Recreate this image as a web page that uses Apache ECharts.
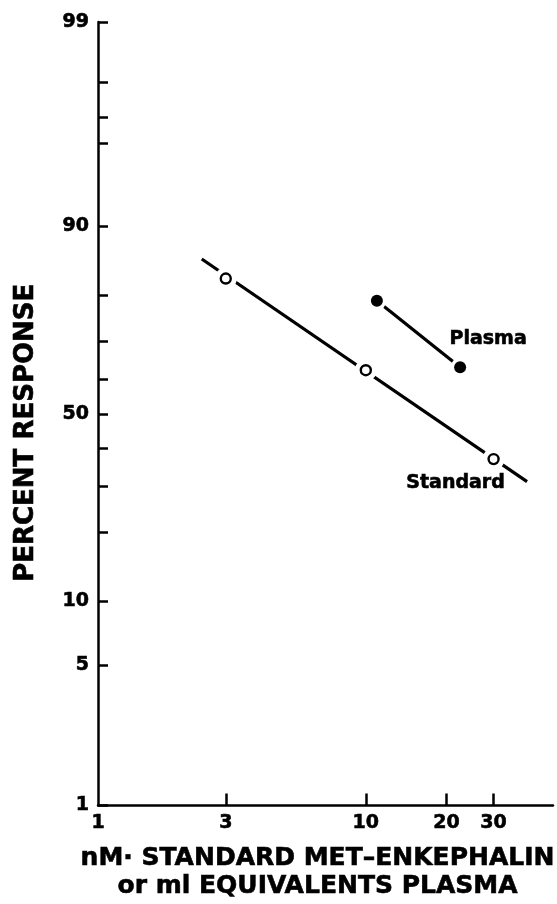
<!DOCTYPE html>
<html>
<head>
<meta charset="utf-8">
<script src="https://cdn.jsdelivr.net/npm/echarts@6.0.0/dist/echarts.min.js"></script>
<style>
  html, body { margin: 0; padding: 0; background: #fff; }
  #chart { width: 557px; height: 904px; }
</style>
</head>
<body>
<div id="chart"></div>
<script>
// ---- data (percent response on a logit scale, dose on a log scale) ----
const standardX = [3, 10, 30];
const standardY = [83, 62.5, 37];
const plasmaX = [11, 22.5];
const plasmaY = [79, 63.3];
// fitted line for the standard curve (end points)
const standardFitX = [2.44, 40];
const standardFitY = [86, 31.1];

const xTickValues = [3, 10, 20, 30];
const xLabelValues = [1, 3, 10, 20, 30];
const yTickPercents = [1, 5, 10, 20, 30, 40, 50, 60, 70, 80, 90, 96, 97, 98, 99];
const yLabelPercents = [1, 5, 10, 50, 90, 99];

const xTitle = 'nM\u00b7 STANDARD MET\u2013ENKEPHALIN\nor ml EQUIVALENTS PLASMA';
const yTitle = 'PERCENT RESPONSE';

// ---- helpers ----
const toLogit = p => Math.log(p / (100 - p));
const fromLogit = v => 100 / (1 + Math.exp(-v));
const pairs = (xs, ys) => xs.map((x, i) => [x, toLogit(ys[i])]);

const FONT = 'DejaVu Sans';
const heavy = { color: '#000', fontFamily: FONT, fontWeight: 'bold',
                textBorderColor: '#000', textBorderWidth: 0.6 };
const chart = echarts.init(document.getElementById('chart'), null, { renderer: 'canvas' });

const stdPts = pairs(standardX, standardY);
const plsPts = pairs(plasmaX, plasmaY);
const stdFit = pairs(standardFitX, standardFitY);

const stdData = stdPts.map((p, i) => i === stdPts.length - 1 ? {
  value: p,
  label: Object.assign({ show: true, formatter: 'Standard', position: 'inside', offset: [-38, 24],
           fontSize: 19 }, heavy)
} : p);
const plsData = plsPts.map((p, i) => i === plsPts.length - 1 ? {
  value: p,
  label: Object.assign({ show: true, formatter: 'Plasma', position: 'inside', offset: [28, -28],
           fontSize: 19 }, heavy)
} : p);

chart.setOption({
  animation: false,
  backgroundColor: '#fff',
  grid: { left: 98, right: 4, top: 22, bottom: 98.5, containLabel: false, outerBoundsMode: 'none' },
  xAxis: {
    type: 'log', logBase: 10, min: 1, max: 50,
    name: xTitle, nameLocation: 'middle', nameGap: 39,
    nameTextStyle: Object.assign({ fontSize: 25, lineHeight: 28, padding: [0, 16, 0, 0] }, heavy),
    axisLine: { show: true, onZero: false, lineStyle: { color: '#000', width: 2.5 } },
    axisTick: { show: true, inside: true, length: 12, customValues: xTickValues,
                lineStyle: { color: '#000', width: 2.5 } },
    minorTick: { show: false },
    axisLabel: Object.assign({ customValues: xLabelValues, margin: 8, fontSize: 19,
                 formatter: v => String(Math.round(v)) }, heavy),
    splitLine: { show: false }
  },
  yAxis: {
    type: 'value', min: toLogit(1), max: toLogit(99),
    name: yTitle, nameLocation: 'middle', nameRotate: 90, nameGap: 59,
    nameTextStyle: Object.assign({ fontSize: 26, padding: [0, 38, 0, 0] }, heavy),
    axisLine: { show: true, onZero: false, lineStyle: { color: '#000', width: 2.5 } },
    axisTick: { show: true, inside: true, length: 10,
                customValues: yTickPercents.map(toLogit),
                lineStyle: { color: '#000', width: 2.5 } },
    axisLabel: Object.assign({ customValues: yLabelPercents.map(toLogit), margin: 9, fontSize: 19,
                 formatter: v => String(Math.round(fromLogit(v))) }, heavy),
    splitLine: { show: false }
  },
  series: [
    { type: 'line', data: stdFit, symbol: 'none', z: 1, silent: true,
      lineStyle: { color: '#000', width: 3.2 } },
    { type: 'line', data: plsPts, symbol: 'none', z: 1, silent: true,
      lineStyle: { color: '#000', width: 3.2 } },
    { type: 'scatter', data: stdPts, symbol: 'circle', symbolSize: 22, z: 2, silent: true,
      itemStyle: { color: '#fff', opacity: 1 } },
    { type: 'scatter', data: plsPts, symbol: 'circle', symbolSize: 19, z: 2, silent: true,
      itemStyle: { color: '#fff', opacity: 1 } },
    { type: 'scatter', name: 'Standard', data: stdData, symbol: 'circle', symbolSize: 10, z: 3,
      itemStyle: { color: '#fff', borderColor: '#000', borderWidth: 2.4, opacity: 1 } },
    { type: 'scatter', name: 'Plasma', data: plsData, symbol: 'circle', symbolSize: 12, z: 3,
      itemStyle: { color: '#000', opacity: 1 } }
  ]
});
</script>
</body>
</html>
